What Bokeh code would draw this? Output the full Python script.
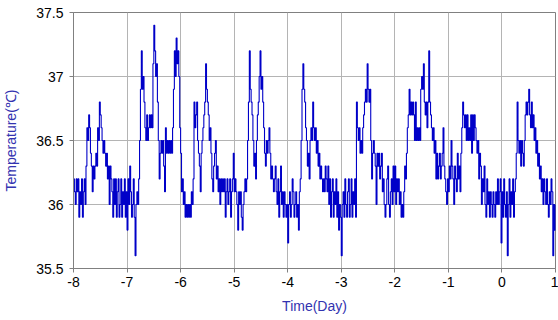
from bokeh.plotting import figure
from bokeh.models import FixedTicker, ColumnDataSource
from bokeh.embed import file_html
from bokeh.resources import INLINE

# Body temperature readings (degC), 60 samples per day
temp_day_m8 = [36.2, 36.1, 36.0, 36.2, 36.1, 36.2, 35.9, 36.1, 36.0, 36.2,
               35.9, 36.1, 36.2, 36.0, 36.3, 36.6, 36.5, 36.7, 36.6, 36.4,
               36.3, 36.1, 36.3, 36.2, 36.3, 36.4, 36.3, 36.6, 36.5, 36.8,
               36.7, 36.6, 36.5, 36.4, 36.5, 36.4, 36.3, 36.4, 36.2, 36.3,
               36.0, 36.3, 36.2, 36.1, 35.9, 36.2, 36.0, 36.2, 35.9, 36.1,
               36.2, 35.9, 36.0, 36.2, 35.9, 36.1, 36.0, 36.2, 35.9, 36.1]
temp_day_m7 = [35.8, 36.2, 36.0, 36.3, 36.1, 35.9, 36.0, 36.2, 35.9, 35.6,
               36.0, 36.1, 36.0, 36.2, 36.5, 36.9, 37.2, 36.9, 37.0, 36.8,
               36.6, 36.5, 36.7, 36.5, 36.6, 36.7, 36.6, 36.7, 36.6, 37.1,
               37.4, 37.2, 37.0, 37.1, 36.8, 36.5, 36.2, 36.4, 36.5, 36.4,
               36.5, 36.3, 36.1, 36.6, 36.4, 36.5, 36.4, 36.5, 36.4, 36.5,
               36.4, 36.6, 36.9, 37.2, 37.0, 37.3, 37.1, 37.2, 37.0, 36.6]
temp_day_m6 = [36.4, 36.1, 36.2, 36.0, 36.1, 35.9, 36.0, 35.9, 36.0, 35.9,
               36.0, 35.9, 36.1, 36.0, 36.2, 36.8, 36.6, 36.7, 36.8, 36.5,
               36.4, 36.3, 36.1, 36.4, 36.5, 36.6, 36.7, 36.8, 37.1, 36.9,
               36.8, 36.7, 36.5, 36.6, 36.4, 36.2, 36.1, 36.3, 36.4, 36.5,
               36.2, 36.3, 36.1, 36.2, 36.0, 36.2, 36.1, 36.2, 36.1, 36.2,
               35.9, 36.1, 36.2, 36.0, 36.1, 36.2, 35.9, 36.1, 36.2, 36.4]
temp_day_m5 = [36.1, 36.2, 36.1, 36.0, 35.8, 36.1, 36.0, 36.1, 35.9, 35.8,
               36.0, 36.1, 36.2, 36.1, 36.2, 36.5, 36.8, 37.2, 36.9, 36.8,
               36.7, 36.5, 36.3, 36.4, 36.2, 36.5, 36.7, 36.8, 37.0, 37.2,
               36.9, 37.0, 36.8, 36.6, 36.4, 36.3, 36.5, 36.4, 36.5, 36.6,
               36.4, 36.2, 36.3, 36.2, 36.1, 36.2, 36.3, 36.1, 36.0, 36.2,
               35.9, 36.1, 36.3, 36.0, 36.1, 35.9, 36.1, 36.0, 35.9, 36.0]
temp_day_m4 = [35.7, 36.0, 36.1, 35.9, 36.0, 36.2, 36.1, 35.9, 36.0, 36.1,
               35.9, 36.0, 35.8, 36.1, 36.2, 36.5, 36.9, 37.1, 36.9, 36.8,
               36.6, 36.5, 36.3, 36.4, 36.2, 36.5, 36.6, 36.5, 36.8, 36.6,
               36.5, 36.6, 36.4, 36.5, 36.3, 36.4, 36.2, 36.3, 36.2, 36.1,
               36.2, 36.1, 36.3, 36.2, 36.1, 36.3, 36.0, 36.2, 35.9, 36.1,
               36.2, 35.9, 36.1, 36.0, 36.2, 35.9, 36.1, 35.8, 36.0, 35.9]
temp_day_m3 = [35.6, 36.0, 36.1, 35.9, 36.2, 36.0, 35.9, 36.1, 36.2, 35.9,
               36.0, 36.2, 35.9, 36.1, 36.0, 36.2, 35.9, 36.8, 36.6, 36.5,
               36.6, 36.4, 36.5, 36.4, 36.6, 36.7, 36.8, 36.9, 36.8, 37.1,
               36.9, 36.8, 36.9, 36.5, 36.2, 36.4, 36.5, 36.4, 36.3, 36.0,
               36.4, 36.3, 36.4, 36.2, 36.3, 36.4, 36.1, 36.2, 36.0, 35.9,
               36.0, 36.2, 36.3, 36.0, 35.9, 36.1, 36.2, 36.0, 36.3, 36.1]
temp_day_m2 = [36.3, 36.0, 36.2, 36.1, 36.2, 36.0, 36.1, 35.9, 36.0, 35.9,
               36.1, 36.3, 36.2, 36.4, 36.6, 36.7, 36.9, 36.7, 36.8, 36.7,
               36.8, 36.7, 36.5, 36.8, 36.5, 36.6, 36.5, 36.6, 36.5, 36.9,
               37.0, 36.9, 37.1, 36.8, 36.7, 36.8, 36.6, 36.8, 37.2, 36.8,
               36.7, 36.6, 36.5, 36.6, 36.4, 36.5, 36.2, 36.4, 36.2, 36.3,
               36.4, 36.2, 36.3, 36.4, 36.6, 36.3, 36.2, 36.1, 36.0, 36.2]
temp_day_m1 = [36.1, 36.3, 36.2, 36.5, 36.3, 36.2, 36.0, 36.3, 36.2, 36.1,
               36.4, 36.2, 36.3, 36.1, 36.4, 36.6, 36.8, 36.7, 36.6, 36.7,
               36.5, 36.7, 36.5, 36.6, 36.5, 36.7, 36.4, 36.7, 36.5, 36.7,
               36.6, 36.5, 36.4, 36.5, 36.2, 36.4, 36.3, 36.0, 36.2, 36.1,
               36.3, 36.0, 35.9, 36.2, 36.0, 36.1, 35.9, 36.1, 36.0, 35.9,
               36.1, 36.0, 35.9, 36.1, 36.0, 36.2, 36.0, 36.1, 36.2, 35.7]
temp_day_0 = [36.1, 35.9, 36.2, 36.0, 35.9, 36.1, 35.6, 36.0, 36.2, 35.9,
              36.1, 36.0, 36.2, 35.9, 36.1, 36.2, 36.4, 36.8, 36.5, 36.4,
              36.5, 36.3, 36.5, 36.4, 36.3, 36.5, 36.7, 36.8, 36.7, 36.8,
              36.9, 36.7, 36.6, 36.8, 36.6, 36.7, 36.5, 36.6, 36.4, 36.5,
              36.3, 36.4, 36.2, 36.3, 36.1, 36.2, 36.0, 36.2, 36.1, 36.0,
              36.2, 36.0, 35.9, 36.1, 36.0, 36.2, 36.1, 35.6, 36.0, 35.8]
temp_end = [36.0]

x_ticks = [-8, -7, -6, -5, -4, -3, -2, -1, 0, 1]
y_ticks = [35.5, 36.0, 36.5, 37.0, 37.5]
y_tick_labels = ["35.5", "36", "36.5", "37", "37.5"]

temps = (temp_day_m8 + temp_day_m7 + temp_day_m6 + temp_day_m5 + temp_day_m4 +
         temp_day_m3 + temp_day_m2 + temp_day_m1 + temp_day_0 + temp_end)
samples_per_day = 60
times = [x_ticks[0] + i / samples_per_day for i in range(len(temps))]

src = ColumnDataSource(dict(t=times, temp=temps))

p = figure(width=558, height=320, output_backend="svg", toolbar_location=None,
           x_range=(-8, 1), y_range=(35.5, 37.5))
p.min_border_left = 73
p.min_border_right = 3
p.min_border_top = 12
p.min_border_bottom = 52
p.background_fill_color = "white"
p.border_fill_color = "white"
p.outline_line_color = "#808080"
p.outline_line_width = 1

p.step("t", "temp", source=src, mode="after", line_color="#0000c8", line_width=1.1)

grid_color = "#b4b4b4"
p.xgrid.grid_line_color = grid_color
p.ygrid.grid_line_color = grid_color
p.xgrid.ticker = FixedTicker(ticks=x_ticks)
p.ygrid.ticker = FixedTicker(ticks=y_ticks)

p.xaxis.ticker = FixedTicker(ticks=x_ticks)
p.yaxis.ticker = FixedTicker(ticks=y_ticks)
p.xaxis.major_label_overrides = {t: str(t) for t in x_ticks}
p.yaxis.major_label_overrides = {v: l for v, l in zip(y_ticks, y_tick_labels)}

for ax in (p.xaxis, p.yaxis):
    ax.axis_line_color = "#808080"
    ax.major_tick_line_color = "#808080"
    ax.minor_tick_line_color = None
    ax.major_tick_out = 4
    ax.major_tick_in = 0
    ax.major_label_text_font = "Liberation Sans"
    ax.major_label_text_font_size = "14px"
    ax.major_label_text_color = "black"
    ax.axis_label_text_font = "Liberation Sans"
    ax.axis_label_text_font_size = "14px"
    ax.axis_label_text_font_style = "normal"
    ax.axis_label_text_color = "#3333b0"

p.xaxis.axis_label = "Time(Day)"
p.yaxis.axis_label = "Temperature(℃)"
p.xaxis.major_label_standoff = 4
p.xaxis.axis_label_standoff = 8
p.yaxis.major_label_standoff = 6
p.yaxis.axis_label_standoff = 14

open("out.html", "w").write(file_html(p, INLINE))
